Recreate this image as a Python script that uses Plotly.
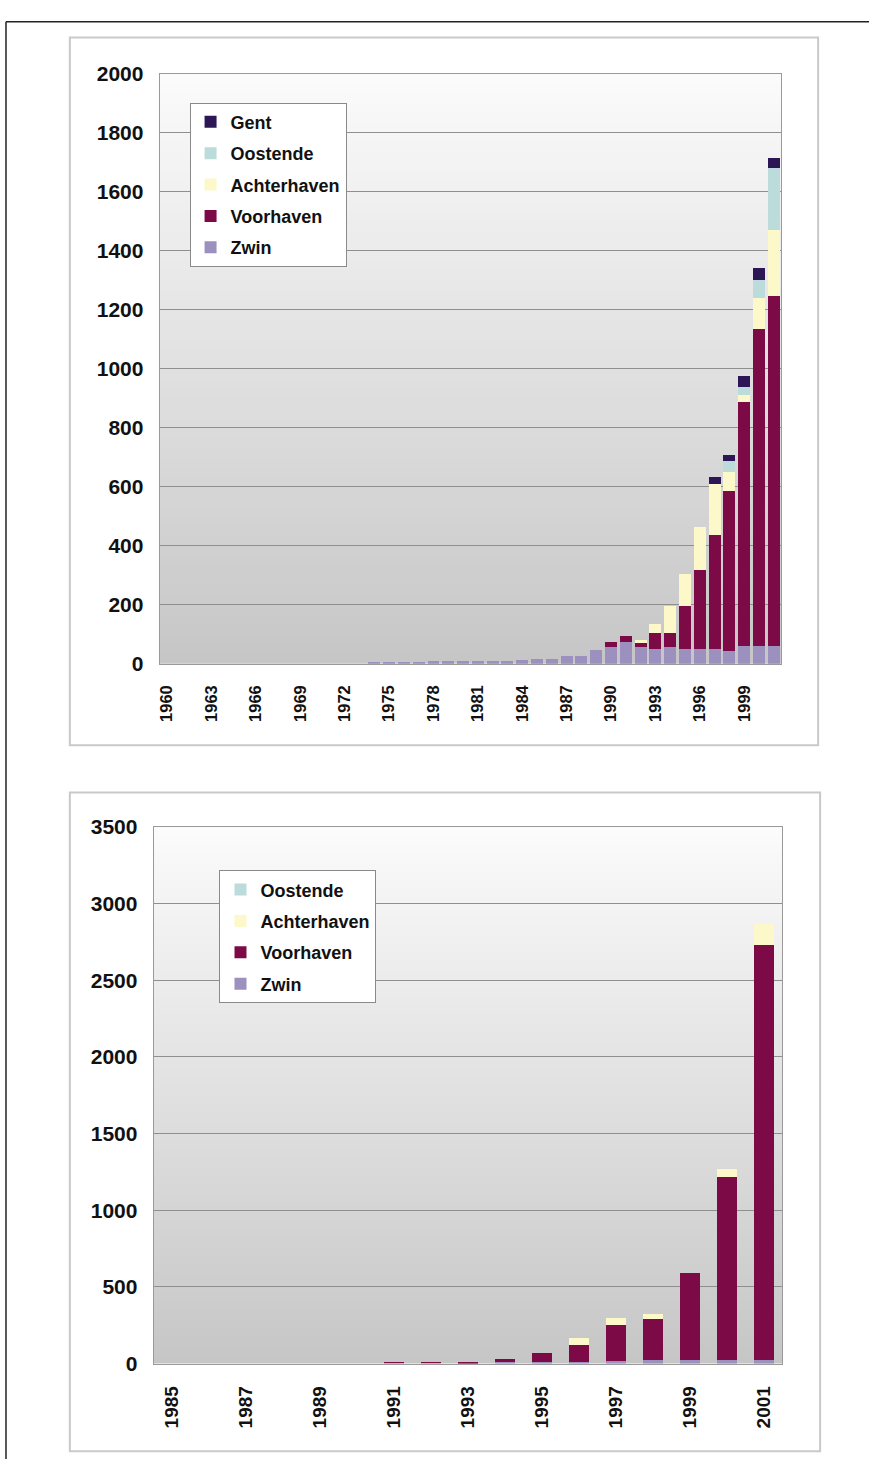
import plotly.graph_objects as go

# ---------------- data: top chart (1960-2001) ----------------
years_top = [str(y) for y in range(1960, 2002)]
top_tick_labels = [str(y) for y in range(1960, 2002, 3)]

zwin_top = [0]*14 + [5, 6, 6, 7, 8, 8, 9, 9, 9, 9, 14, 15, 17, 25, 27, 46,
                     55, 73, 58, 50, 58, 48, 48, 50, 42, 61, 61, 61]
voorhaven_top = [0]*30 + [18, 20, 12, 54, 45, 147, 270, 385, 542, 827, 1074, 1187]
achterhaven_top = [0]*30 + [0, 0, 10, 31, 92, 108, 147, 176, 67, 23, 104, 224]
oostende_top = [0]*30 + [0, 0, 0, 0, 0, 0, 0, 0, 35, 28, 64, 208]
gent_top = [0]*30 + [0, 0, 0, 0, 0, 0, 0, 23, 23, 35, 40, 34]

# ---------------- data: bottom chart (1985-2001) ----------------
years_bot = [str(y) for y in range(1985, 2002)]
bot_tick_labels = [str(y) for y in range(1985, 2002, 2)]

zwin_bot = [0, 0, 0, 0, 0, 0, 4, 4, 3, 8, 12, 12, 18, 20, 25, 25, 25]
voorhaven_bot = [0, 0, 0, 0, 0, 0, 4, 4, 3, 22, 54, 110, 232, 271, 568, 1195, 2703]
achterhaven_bot = [0, 0, 0, 0, 0, 0, 0, 0, 0, 0, 0, 47, 47, 32, 0, 52, 138]
oostende_bot = [0]*17

names = ["Zwin", "Voorhaven", "Achterhaven", "Oostende", "Gent"]
colors = {"Zwin": "#9c91be", "Voorhaven": "#7c0a47", "Achterhaven": "#fdf8c9",
          "Oostende": "#bcdcdc", "Gent": "#2c1655"}

W, H = 869, 1470
FONT = "Liberation Sans"

fig = go.Figure()

top_series = [zwin_top, voorhaven_top, achterhaven_top, oostende_top, gent_top]
for i, (name, vals) in enumerate(zip(names, top_series)):
    fig.add_trace(go.Bar(
        x=years_top, y=vals, name=name, marker_color=colors[name],
        marker_line_width=0, xaxis="x", yaxis="y", legend="legend",
        legendgroup="t" + name, legendrank=10 - i, hoverinfo="x+y+name"))

bot_series = [zwin_bot, voorhaven_bot, achterhaven_bot, oostende_bot]
for i, (name, vals) in enumerate(zip(names[:4], bot_series)):
    fig.add_trace(go.Bar(
        x=years_bot, y=vals, name=name, marker_color=colors[name],
        marker_line_width=0, xaxis="x2", yaxis="y2", legend="legend2",
        legendgroup="b" + name, legendrank=10 - i, width=0.54,
        hoverinfo="x+y+name"))

def px_x(p):
    return p / W

def px_y(p):
    return 1 - p / H

shapes = []
# gradient plot backgrounds
N = 60
for ax in ["", "2"]:
    for i in range(N):
        t = (i + 0.5) / N  # 0 bottom -> 1 top
        g = int(round(198 + (251 - 198) * t))
        shapes.append(dict(type="rect", xref="x%s domain" % ax, yref="y%s domain" % ax,
                           x0=0, x1=1, y0=i / N, y1=(i + 1) / N + 0.002,
                           fillcolor="rgb(%d,%d,%d)" % (g, g, g),
                           line_width=0, layer="below"))
# chart frames
shapes.append(dict(type="rect", xref="paper", yref="paper",
                   x0=px_x(68), x1=px_x(818), y0=px_y(745), y1=px_y(26),
                   line=dict(color="#c9c9c9", width=2), layer="below"))
shapes.append(dict(type="rect", xref="paper", yref="paper",
                   x0=px_x(68), x1=px_x(820), y0=px_y(1462), y1=px_y(793),
                   line=dict(color="#c9c9c9", width=2), layer="below"))
# page border lines
shapes.append(dict(type="line", xref="paper", yref="paper",
                   x0=px_x(4), x1=1, y0=px_y(10), y1=px_y(10),
                   line=dict(color="#222222", width=1.5)))
shapes.append(dict(type="line", xref="paper", yref="paper",
                   x0=px_x(4), x1=px_x(4), y0=0, y1=px_y(10),
                   line=dict(color="#222222", width=1.5)))

tickfont_y = dict(family=FONT, size=21, color="#111111", weight="bold")
tickfont_x = dict(family=FONT, size=16.5, color="#111111", weight="bold")
tickfont_x2 = dict(family=FONT, size=19, color="#111111", weight="bold")
legfont = dict(family=FONT, size=18, color="#111111", weight="bold")

fig.update_layout(
    width=W, height=H, margin=dict(l=0, r=0, t=0, b=0),
    paper_bgcolor="white", plot_bgcolor="rgba(0,0,0,0)",
    barmode="stack", bargap=0.2,
    shapes=shapes,
    xaxis=dict(domain=[px_x(158), px_x(781)], anchor="y", type="category",
               tickmode="array", tickvals=top_tick_labels, ticktext=top_tick_labels,
               tickangle=-90, tickfont=tickfont_x, showline=True, linecolor="#9a9a9a",
               mirror=True, showgrid=False, ticks="", ticklabelstandoff=14),
    yaxis=dict(domain=[px_y(662), px_y(63)], anchor="x", range=[0, 2000], dtick=200,
               tickfont=tickfont_y, showline=True, linecolor="#9a9a9a", mirror=True,
               gridcolor="#8f8f8f", gridwidth=1, zeroline=False, ticks="",
               ticklabelstandoff=11),
    xaxis2=dict(domain=[px_x(152), px_x(782)], anchor="y2", type="category",
                tickmode="array", tickvals=bot_tick_labels, ticktext=bot_tick_labels,
                tickangle=-90, tickfont=tickfont_x2, showline=True, linecolor="#9a9a9a",
                mirror=True, showgrid=False, ticks="", ticklabelstandoff=14),
    yaxis2=dict(domain=[px_y(1373), px_y(828)], anchor="x2", range=[0, 3500], dtick=500,
                tickfont=tickfont_y, showline=True, linecolor="#9a9a9a", mirror=True,
                gridcolor="#8f8f8f", gridwidth=1, zeroline=False, ticks="",
                ticklabelstandoff=11),
    legend=dict(x=px_x(188), y=px_y(92), xanchor="left", yanchor="top",
                bgcolor="white", bordercolor="#8a8a8a", borderwidth=1,
                font=legfont, traceorder="grouped", tracegroupgap=5,
                itemwidth=30),
    legend2=dict(x=px_x(218), y=px_y(872), xanchor="left", yanchor="top",
                 bgcolor="white", bordercolor="#8a8a8a", borderwidth=1,
                 font=legfont, traceorder="grouped", tracegroupgap=5,
                 itemwidth=30),
)

fig.write_html(
    "out.html", config={"displayModeBar": False},
    post_script=("document.documentElement.style.margin='0px';"
                 "document.body.style.margin='0px';"
                 "document.body.style.overflow='hidden';"
                 "var d=document.getElementById('{plot_id}');"
                 "d.style.position='fixed';d.style.left='0px';d.style.top='0px';"))
